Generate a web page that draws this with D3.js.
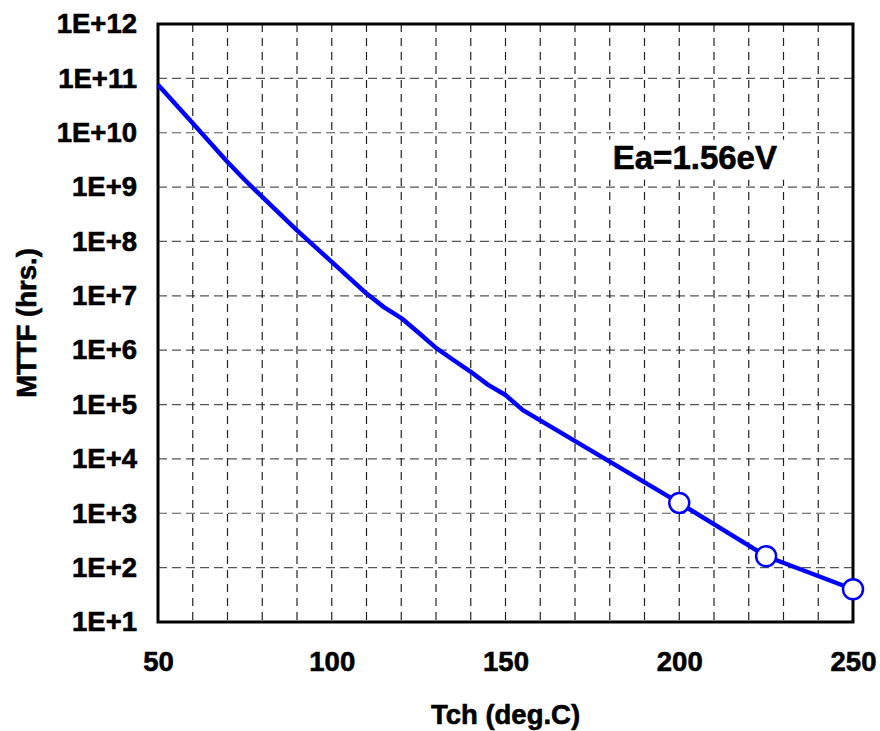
<!DOCTYPE html>
<html><head><meta charset="utf-8">
<script src="https://cdn.jsdelivr.net/npm/d3@7/dist/d3.min.js"></script>
<style>body{margin:0;background:#fff}</style>
</head><body>
<svg id="c" width="880" height="731"></svg>
<script>
// Data
const tempC = [50, 60, 70, 75, 80, 90, 100, 110, 115, 120, 125, 130, 135, 140, 145, 150, 155, 200, 225, 250];
const mttfHrs = [7.6e10, 1.5e10, 2.9e9, 1.35e9, 6.6e8, 1.6e8, 4.2e7, 1.1e7, 6.2e6, 3.9e6, 2.1e6, 1.1e6, 6.6e5, 4.0e5, 2.3e5, 1.5e5, 7.9e4, 1550, 162, 40];
const measuredT = [200, 225, 250];
const measuredMTTF = [1550, 162, 40];
const xTicks = [50, 100, 150, 200, 250];
const xGrid = [60, 70, 80, 90, 100, 110, 120, 130, 140, 150, 160, 170, 180, 190, 200, 210, 220, 230, 240];
const yTicks = [1e1, 1e2, 1e3, 1e4, 1e5, 1e6, 1e7, 1e8, 1e9, 1e10, 1e11, 1e12];
const yTickLabels = ["1E+1", "1E+2", "1E+3", "1E+4", "1E+5", "1E+6", "1E+7", "1E+8", "1E+9", "1E+10", "1E+11", "1E+12"];
const annotation = "Ea=1.56eV";

const L = 158, R = 853, T = 24, B = 622;
const svg = d3.select("#c");
const font = "'Liberation Sans', Arial, sans-serif";
const x = d3.scaleLinear().domain([50, 250]).range([L, R]);
const y = d3.scaleLog().domain([1e1, 1e12]).range([B, T]);

function boldText(sel, size) {
  sel.attr("font-family", font).attr("font-weight", "bold").attr("font-size", size)
    .attr("fill", "#000").attr("stroke", "#000").attr("stroke-width", 0.6);
}

// grid
svg.append("g").selectAll("line").data(yTicks.slice(1, -1)).join("line")
  .attr("x1", L).attr("x2", R).attr("y1", d => y(d)).attr("y2", d => y(d))
  .attr("stroke", "#555").attr("stroke-width", 1.2).attr("stroke-dasharray", "9,5");
svg.append("g").selectAll("line").data(xGrid).join("line")
  .attr("y1", T).attr("y2", B).attr("x1", d => x(d)).attr("x2", d => x(d))
  .attr("stroke", "#222").attr("stroke-width", 1.2).attr("stroke-dasharray", "8,6");

// annotation with white box
const ag = svg.append("g");
ag.append("rect").attr("x", x(180) - 4).attr("y", y(1e10) + 7).attr("width", 182).attr("height", 40).attr("fill", "#fff");
boldText(ag.append("text").attr("x", x(180) + 3).attr("y", y(1e10) + 36).text(annotation), 33);

// axes
const yAxis = d3.axisLeft(y).tickValues(yTicks).tickFormat((d, i) => yTickLabels[i]).tickSize(0).tickPadding(21);
const gy = svg.append("g").attr("transform", `translate(${L},0)`).call(yAxis);
gy.select(".domain").remove();
boldText(gy.selectAll("text"), 27.5);

const xAxis = d3.axisBottom(x).tickValues(xTicks).tickSize(0).tickPadding(29);
const gx = svg.append("g").attr("transform", `translate(0,${B})`).call(xAxis);
gx.select(".domain").remove();
boldText(gx.selectAll("text"), 27.5);

// frame
svg.append("rect").attr("x", L).attr("y", T).attr("width", R - L).attr("height", B - T)
  .attr("fill", "none").attr("stroke", "#000").attr("stroke-width", 3);

// line
const line = d3.line().x((d, i) => x(tempC[i])).y((d, i) => y(mttfHrs[i]));
svg.append("path").datum(mttfHrs).attr("d", line).attr("fill", "none")
  .attr("stroke", "#0000ff").attr("stroke-width", 4.5).attr("stroke-linejoin", "round");

svg.append("g").selectAll("circle").data(measuredMTTF).join("circle")
  .attr("cx", (d, i) => x(measuredT[i])).attr("cy", d => y(d)).attr("r", 10)
  .attr("fill", "#fff").attr("stroke", "#0000ff").attr("stroke-width", 2.5);

// titles
boldText(svg.append("text").attr("x", (L + R) / 2).attr("y", 724).attr("text-anchor", "middle").text("Tch (deg.C)"), 27.5);
boldText(svg.append("text").attr("transform", `translate(36,${(T + B) / 2}) rotate(-90)`).attr("text-anchor", "middle").text("MTTF (hrs.)"), 27.5);
</script>
</body></html>
